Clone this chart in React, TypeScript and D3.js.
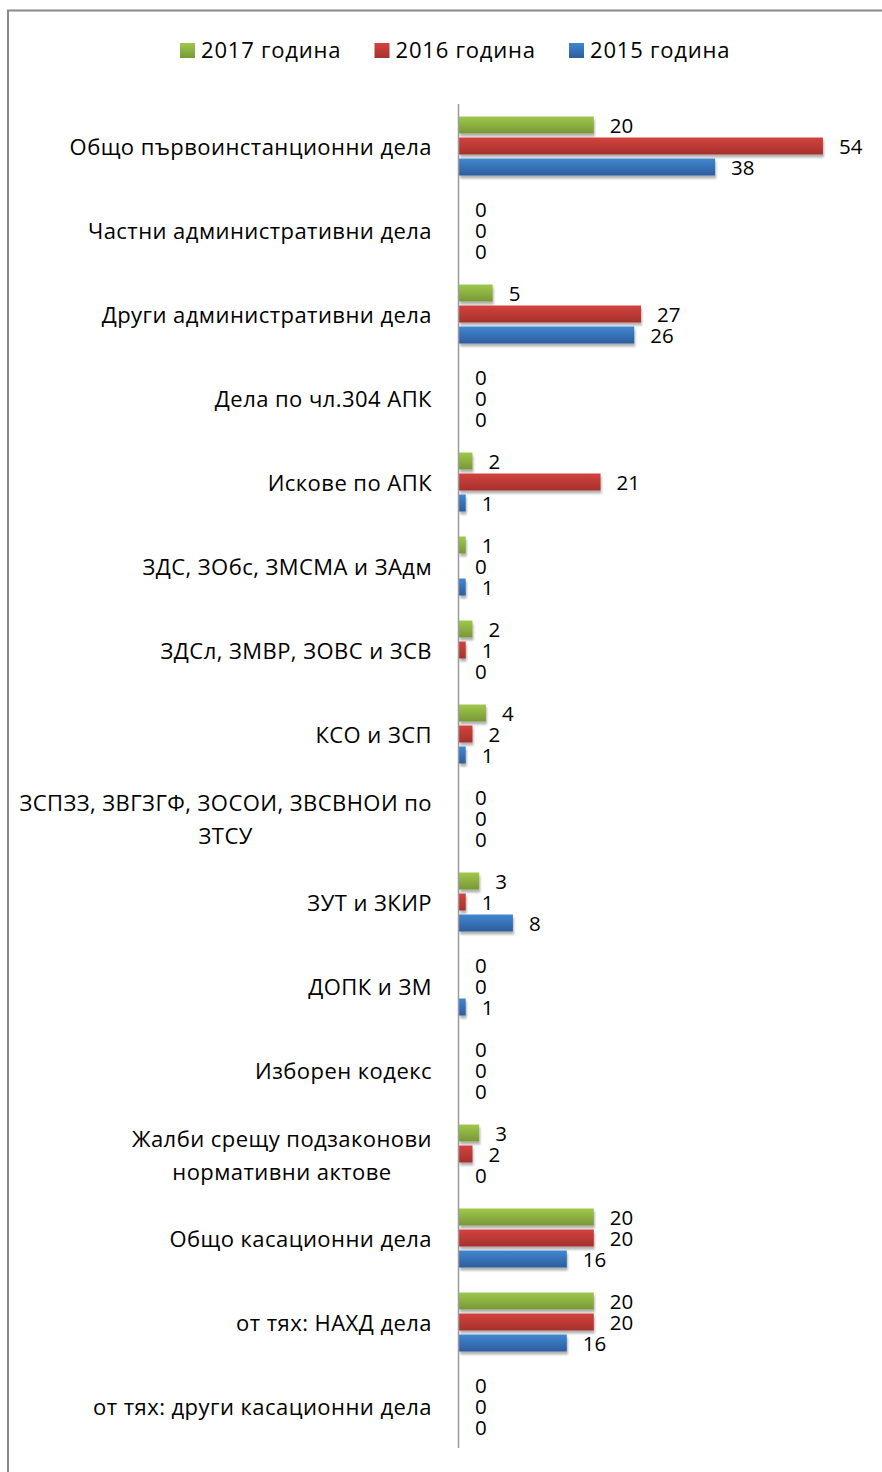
import React, { useEffect, useRef } from "react";
import * as d3 from "d3";

const categories: string[][] = [
  ["Общо първоинстанционни дела"],
  ["Частни административни дела"],
  ["Други административни дела"],
  ["Дела по чл.304 АПК"],
  ["Искове по АПК"],
  ["ЗДС, ЗОбс, ЗМСМА и ЗАдм"],
  ["ЗДСл, ЗМВР, ЗОВС и ЗСВ"],
  ["КСО и ЗСП"],
  ["ЗСПЗЗ, ЗВГЗГФ, ЗОСОИ, ЗВСВНОИ по", "ЗТСУ"],
  ["ЗУТ и ЗКИР"],
  ["ДОПК и ЗМ"],
  ["Изборен кодекс"],
  ["Жалби срещу подзаконови", "нормативни актове"],
  ["Общо касационни дела"],
  ["от тях: НАХД дела"],
  ["от тях: други касационни дела"],
];

const v2017 = [20, 0, 5, 0, 2, 1, 2, 4, 0, 3, 0, 0, 3, 20, 20, 0];
const v2016 = [54, 0, 27, 0, 21, 0, 1, 2, 0, 1, 0, 0, 2, 20, 20, 0];
const v2015 = [38, 0, 26, 0, 1, 1, 0, 1, 0, 8, 1, 0, 0, 16, 16, 0];

const seriesNames = ["2017 година", "2016 година", "2015 година"];
const seriesValues = [v2017, v2016, v2015];

const W = 882;
const H = 1472;
const FONT = "'Open Sans', 'Noto Sans', sans-serif";

const colors = [
  { top: "#a0c84c", bottom: "#789737" },
  { top: "#d4433e", bottom: "#a5312d" },
  { top: "#4087d2", bottom: "#2d5d9c" },
];

export default function App() {
  const ref = useRef<SVGSVGElement | null>(null);

  useEffect(() => {
    const svg = d3.select(ref.current);
    svg.selectAll("*").remove();

    const defs = svg.append("defs");
    colors.forEach((c, i) => {
      const g = defs
        .append("linearGradient")
        .attr("id", `grad${i}`)
        .attr("x1", 0)
        .attr("y1", 0)
        .attr("x2", 0)
        .attr("y2", 1);
      g.append("stop").attr("offset", "0%").attr("stop-color", c.top);
      g.append("stop").attr("offset", "100%").attr("stop-color", c.bottom);
    });
    const f = defs
      .append("filter")
      .attr("id", "shadow")
      .attr("x", "-10%")
      .attr("y", "-30%")
      .attr("width", "130%")
      .attr("height", "190%");
    f.append("feDropShadow")
      .attr("dx", 1)
      .attr("dy", 3)
      .attr("stdDeviation", 1.3)
      .attr("flood-color", "#000")
      .attr("flood-opacity", 0.3);

    svg.append("rect").attr("width", W).attr("height", H).attr("fill", "#fff");

    // outer border
    svg
      .append("rect")
      .attr("x", 8)
      .attr("y", 10.5)
      .attr("width", 1000)
      .attr("height", 2000)
      .attr("fill", "none")
      .attr("stroke", "#8a8a8a")
      .attr("stroke-width", 2);

    const x = d3.scaleLinear().domain([0, 60]).range([459, 863.4]);
    const y = d3
      .scaleBand<number>()
      .domain(d3.range(categories.length))
      .range([104, 1448])
      .paddingInner(0);
    const inner = d3
      .scaleBand<number>()
      .domain([0, 1, 2])
      .range([-31.5, 31.5])
      .paddingInner(0.19)
      .paddingOuter(0.095);

    // bars
    seriesValues.forEach((vals, si) => {
      const g = svg.append("g");
      g.selectAll("rect")
        .data(vals)
        .join("rect")
        .attr("x", x(0))
        .attr("y", (_, i) => y(i)! + y.bandwidth() / 2 + inner(si)!)
        .attr("width", (v) => x(v) - x(0))
        .attr("height", inner.bandwidth())
        .attr("fill", `url(#grad${si})`)
        .attr("filter", (v) => (v > 0 ? "url(#shadow)" : null));
    });

    // axis line
    svg
      .append("line")
      .attr("x1", 458.5)
      .attr("x2", 458.5)
      .attr("y1", y.range()[0])
      .attr("y2", y.range()[1])
      .attr("stroke", "#9a9a9a")
      .attr("stroke-width", 1.5);

    // value labels
    seriesValues.forEach((vals, si) => {
      svg
        .append("g")
        .selectAll("text")
        .data(vals)
        .join("text")
        .attr("x", (v) => x(v) + 16)
        .attr("y", (_, i) => y(i)! + y.bandwidth() / 2 + inner(si)! + inner.bandwidth() / 2 + 1)
        .attr("dy", "0.35em")
        .attr("font-family", FONT)
        .attr("font-size", 20.5)
        .attr("fill", "#000")
        .text((v) => String(v));
    });

    // category labels
    const labelRight = 432;
    const lineH = 33;
    categories.forEach((lines, i) => {
      const cy = y(i)! + y.bandwidth() / 2 + 1.5;
      const t = svg
        .append("text")
        .attr("font-family", FONT)
        .attr("font-size", 22)
        .attr("letter-spacing", 0.45)
        .attr("fill", "#000");
      lines.forEach((ln, li) => {
        t.append("tspan")
          .attr("y", cy + (li - (lines.length - 1) / 2) * lineH)
          .attr("dy", "0.35em")
          .text(ln);
      });
      if (lines.length === 1) {
        t.attr("text-anchor", "end");
        t.selectAll("tspan").attr("x", labelRight);
      } else {
        let maxW = 0;
        t.selectAll<SVGTSpanElement, unknown>("tspan").each(function () {
          maxW = Math.max(maxW, this.getComputedTextLength());
        });
        t.attr("text-anchor", "middle");
        t.selectAll("tspan").attr("x", labelRight - maxW / 2);
      }
    });

    // legend
    const legend = svg.append("g");
    seriesNames.forEach((name, i) => {
      const lx = 180 + i * 194.5;
      legend
        .append("rect")
        .attr("x", lx)
        .attr("y", 43)
        .attr("width", 15)
        .attr("height", 15)
        .attr("fill", `url(#grad${i})`);
      legend
        .append("text")
        .attr("x", lx + 21)
        .attr("y", 50.5)
        .attr("dy", "0.35em")
        .attr("font-family", FONT)
        .attr("font-size", 22)
        .attr("letter-spacing", 0.8)
        .attr("fill", "#000")
        .text(name);
    });
  }, []);

  return (
    <svg
      ref={ref}
      width={W}
      height={H}
      style={{ position: "absolute", left: 0, top: 0, display: "block" }}
    />
  );
}
